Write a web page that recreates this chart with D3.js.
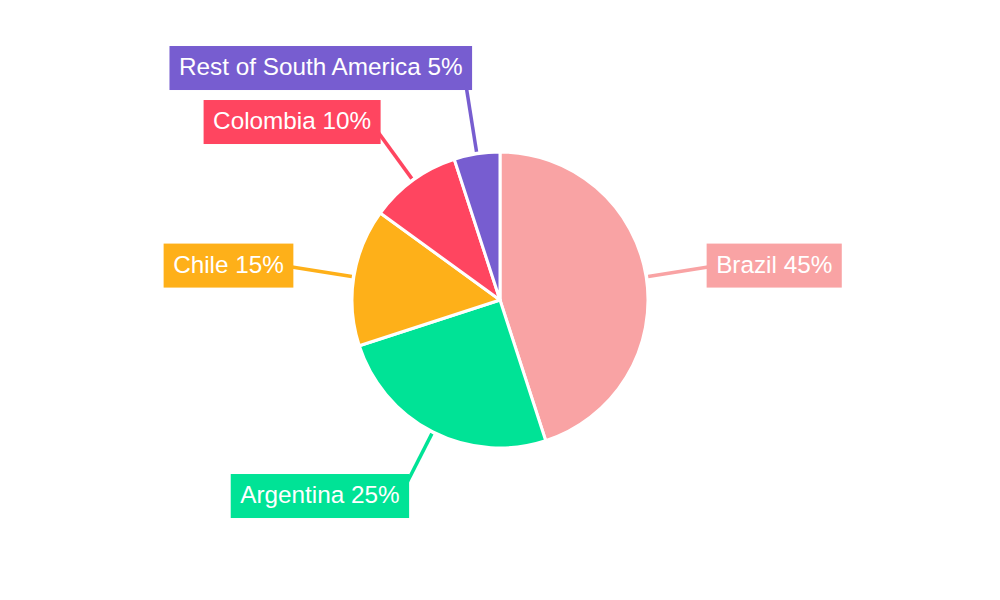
<!DOCTYPE html>
<html>
<head>
<meta charset="utf-8">
<script src="https://cdn.jsdelivr.net/npm/d3@7"></script>
<style>
html,body{margin:0;padding:0;background:#fff;}
svg{display:block;font-family:"Liberation Sans",Arial,sans-serif;}
</style>
</head>
<body>
<svg id="chart" width="1000" height="600"></svg>
<script>
const categories = ["Brazil", "Argentina", "Chile", "Colombia", "Rest of South America"];
const values = [45, 25, 15, 10, 5];
const colors = ["#F9A3A4", "#00E396", "#FEB019", "#FF4560", "#775DD0"];

const W = 1000, H = 600;
const cx = 500, cy = 300, R = 148;
const lineStart = 150, lineEnd = 210, lineDraw = 214;
const fontSize = 24.3, padX = 9.5, boxH = 44, gap = 10;

const svg = d3.select("#chart");
const g = svg.append("g").attr("transform", `translate(${cx},${cy})`);

const data = categories.map((c, i) => ({ name: c, value: values[i], color: colors[i] }));
const total = d3.sum(values);
const pie = d3.pie().sort(null).value(d => d.value);
const arcs = pie(data);
const arc = d3.arc().innerRadius(0).outerRadius(R);

const mid = d => (d.startAngle + d.endAngle) / 2;
const pt = (a, r) => [r * Math.sin(a), -r * Math.cos(a)];

// leader lines (behind)
g.selectAll("line.leader").data(arcs).join("line")
  .attr("class", "leader")
  .attr("x1", d => pt(mid(d), lineStart)[0])
  .attr("y1", d => pt(mid(d), lineStart)[1])
  .attr("x2", d => pt(mid(d), lineDraw)[0])
  .attr("y2", d => pt(mid(d), lineDraw)[1])
  .attr("stroke", d => d.data.color)
  .attr("stroke-width", 3.5);

// slices
g.selectAll("path.slice").data(arcs).join("path")
  .attr("class", "slice")
  .attr("d", arc)
  .attr("fill", d => d.data.color)
  .attr("stroke", "#fff")
  .attr("stroke-width", 3)
  .attr("stroke-linejoin", "round");

// label layout
const labelInfo = arcs.map(d => {
  const a = mid(d);
  const [ex, ey] = pt(a, lineEnd);
  const right = Math.sin(a) > 0;
  return { d, a, right,
           ex: ex + (right ? -1 : 1) * 5 * Math.abs(Math.cos(a)),
           cy: ey - Math.cos(a) * 10,
           text: `${d.data.name} ${Math.round(d.data.value / total * 100)}%` };
});
// simple collision avoidance per side: push upper labels upward
[true, false].forEach(side => {
  const items = labelInfo.filter(l => l.right === side).sort((p, q) => q.cy - p.cy);
  for (let i = 1; i < items.length; i++) {
    const lower = items[i - 1], cur = items[i];
    const maxCy = lower.cy - boxH - gap;
    if (cur.cy > maxCy) cur.cy = maxCy;
  }
});

const labels = g.selectAll("g.label").data(labelInfo).join("g").attr("class", "label");
labels.each(function(l) {
  const sel = d3.select(this);
  const txt = sel.append("text")
    .attr("fill", "#fff")
    .attr("font-size", fontSize)
    .text(l.text);
  const tw = txt.node().getComputedTextLength();
  const bw = tw + 2 * padX;
  const bx = l.right ? l.ex : l.ex - bw;
  sel.insert("rect", "text")
    .attr("x", bx).attr("y", l.cy - boxH / 2)
    .attr("width", bw).attr("height", boxH)
    .attr("fill", l.d.data.color);
  txt.attr("x", bx + padX).attr("y", l.cy + fontSize * 0.3);
});
</script>
</body>
</html>
